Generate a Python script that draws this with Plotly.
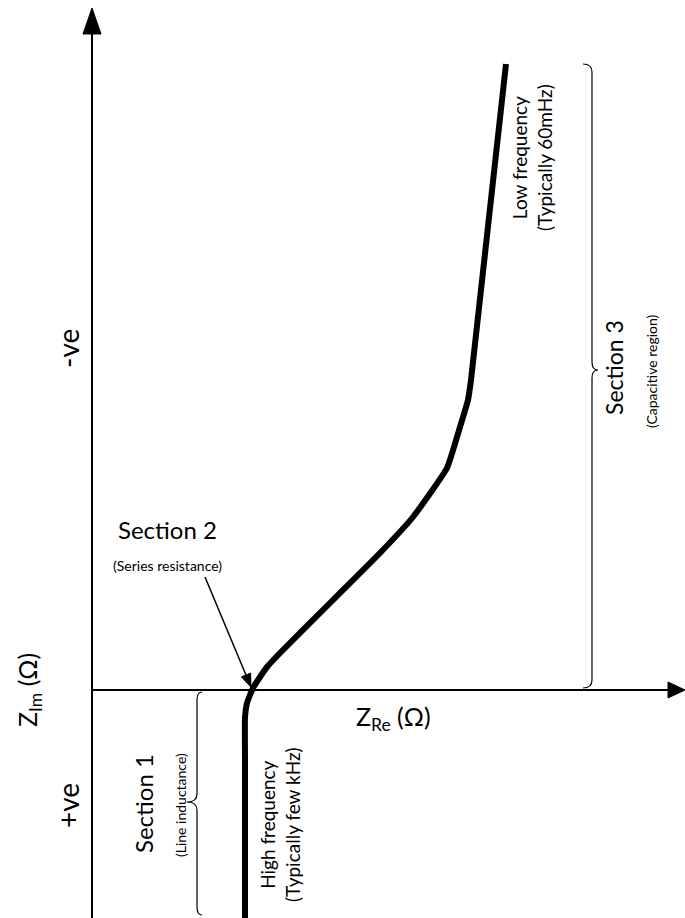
import numpy as np
import plotly.graph_objects as go

# Nyquist-style schematic curve (arbitrary units; x = Z_Re, y = -Z_Im)
z_re = [15.3, 15.3, 15.3, 15.5, 15.8, 16.1, 16.6, 17.5, 18.8, 24.1, 28.8, 32.1, 35.5, 36.8, 37.6, 37.9, 41.4]
z_im_neg = [-22.8, -7.0, -2.7, -1.3, -0.5, 0.2, 1.0, 2.3, 3.7, 9.0, 13.7, 17.3, 22.2, 26.3, 29.0, 31.0, 62.6]

# Section 2 pointer (tail -> tip)
pointer_tail = (11.3, 11.3)
pointer_tip = (15.9, 0.3)

X_RANGE = [-9.2, 59.3]
Y_RANGE = [-22.8, 69.0]

FONT = "Lato"

fig = go.Figure()
fig.add_trace(go.Scatter(x=z_re, y=z_im_neg, mode="lines",
                         line=dict(color="black", width=6, shape="spline", smoothing=0.4),
                         hoverinfo="skip", showlegend=False))

shapes = []
# axes
shapes.append(dict(type="line", x0=0, y0=Y_RANGE[0], x1=0, y1=65.8, line=dict(color="black", width=2)))
shapes.append(dict(type="line", x0=0, y0=0, x1=57.8, y1=0, line=dict(color="black", width=2)))
# arrowheads
shapes.append(dict(type="path", path="M -0.9,65.6 L 0,68.2 L 0.9,65.6 Z", fillcolor="black", line=dict(color="black", width=1)))
shapes.append(dict(type="path", path="M 57.6,0.8 L 59.3,0 L 57.6,-0.8 Z", fillcolor="black", line=dict(color="black", width=1)))

# Section 2 pointer line + head
t = np.array(pointer_tail)
p = np.array(pointer_tip)
d = (p - t) / np.linalg.norm(p - t)
n = np.array([-d[1], d[0]])
head_len, head_half = 1.3, 0.5
base = p - d * head_len
shapes.append(dict(type="line", x0=t[0], y0=t[1], x1=base[0], y1=base[1],
                   line=dict(color="black", width=1.5)))
b1 = base + n * head_half
b2 = base - n * head_half
shapes.append(dict(type="path",
                   path=f"M {b1[0]:.3f},{b1[1]:.3f} L {p[0]:.3f},{p[1]:.3f} L {b2[0]:.3f},{b2[1]:.3f} Z",
                   fillcolor="black", line=dict(color="black", width=1)))


def brace(x0, xe, xt, ytop, ybot, ymid, r):
    return (f"M {xe},{ytop} Q {x0},{ytop} {x0},{ytop - r} L {x0},{ymid + r} "
            f"Q {x0},{ymid} {xt},{ymid} Q {x0},{ymid} {x0},{ymid - r} "
            f"L {x0},{ybot + r} Q {x0},{ybot} {xe},{ybot}")


shapes.append(dict(type="path", path=brace(10.5, 11.0, 9.5, -0.2, -22.5, -11.2, 0.8),
                   line=dict(color="black", width=1.2)))
shapes.append(dict(type="path", path=brace(50.0, 49.1, 50.6, 62.6, 0.2, 32.0, 0.8),
                   line=dict(color="black", width=1.2)))

ann = []


def txt(x, y, text, size, angle=0):
    ann.append(dict(x=x, y=y, xref="x", yref="y", text=text, showarrow=False,
                    textangle=angle, font=dict(family=FONT, size=size, color="black"),
                    xanchor="center", yanchor="middle"))


txt(-6.3, 0.0, "Z<sub>Im</sub> (Ω)", 25, -90)
txt(30.1, -2.8, "Z<sub>Re</sub> (Ω)", 25)
txt(-2.4, 34.1, "-ve", 28, -90)
txt(-2.4, -11.6, "+ve", 28, -90)
txt(5.1, -11.4, "Section 1", 24, -90)
txt(8.8, -11.5, "(Line inductance)", 14, -90)
txt(7.5, 16.1, "Section 2", 24)
txt(7.5, 12.5, "(Series resistance)", 14)
txt(52.2, 32.2, "Section 3", 23, -90)
txt(55.9, 31.9, "(Capacitive region)", 14, -90)
txt(44.0, 53.2, "Low frequency<br>(Typically 60mHz)", 19, -90)
txt(18.8, -13.5, "High frequency<br>(Typically few kHz)", 19, -90)

fig.update_layout(
    width=685, height=918,
    margin=dict(l=0, r=0, t=0, b=0),
    paper_bgcolor="white", plot_bgcolor="white",
    xaxis=dict(range=X_RANGE, visible=False, fixedrange=True),
    yaxis=dict(range=Y_RANGE, visible=False, fixedrange=True),
    shapes=shapes, annotations=ann, showlegend=False,
)

fig.write_html("out.html")
